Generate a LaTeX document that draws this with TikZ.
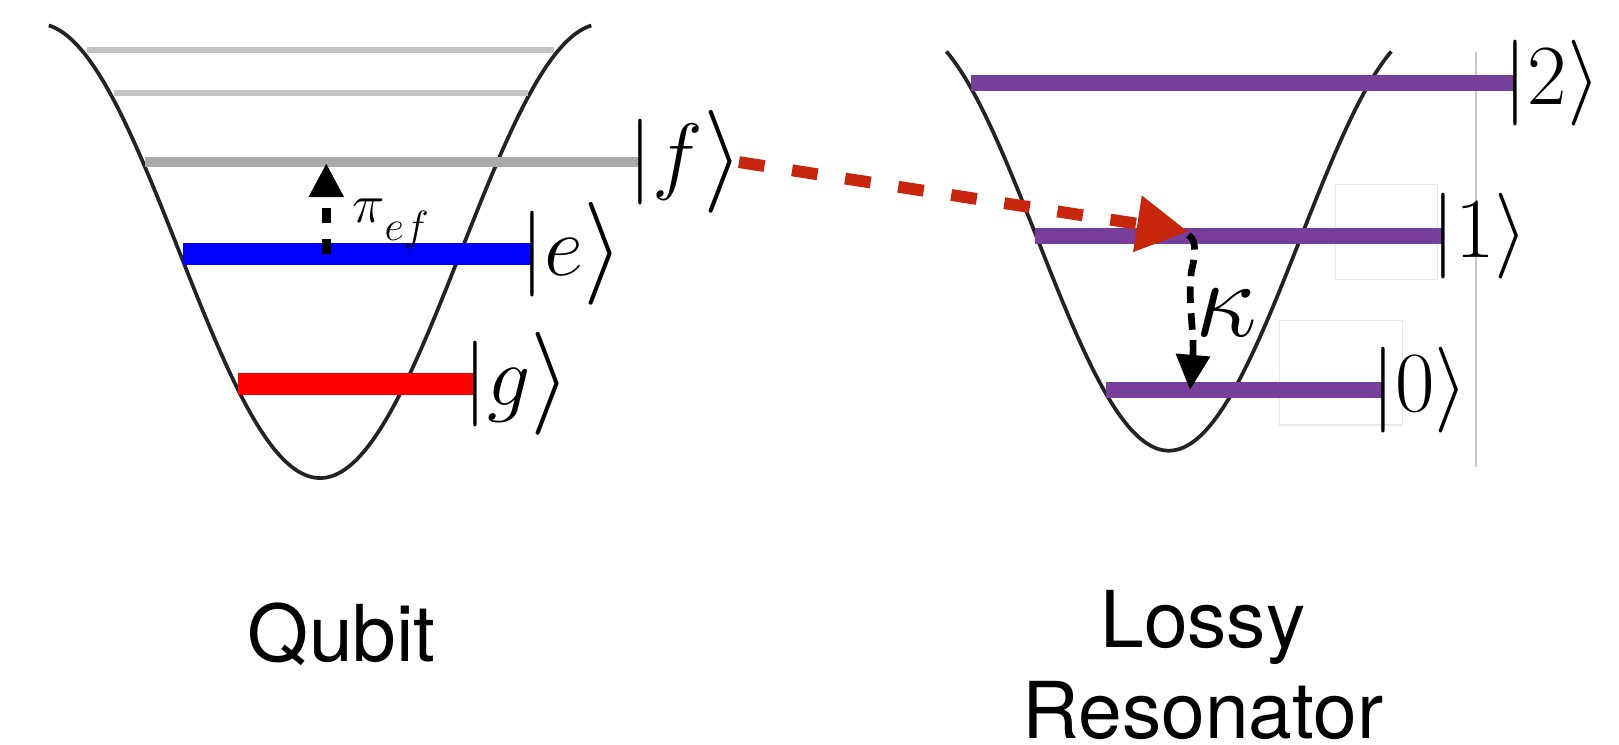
\RequirePackage{fix-cm}
\documentclass[tikz,border=0pt]{standalone}
\usepackage{fontspec}
\usepackage{graphicx}
\usetikzlibrary{arrows.meta}
\newfontfamily\heros{TeX Gyre Heros}
\definecolor{qred}{RGB}{255,0,0}
\definecolor{qblue}{RGB}{0,0,255}
\definecolor{purp}{RGB}{119,63,155}
\definecolor{arrred}{RGB}{200,38,12}
\definecolor{fgray}{RGB}{170,170,170}
\definecolor{tgray}{RGB}{195,195,195}
\definecolor{wellc}{RGB}{35,35,35}
% ket with enlarged right angle bracket (as in the reference)
\newcommand{\ketq}[1]{\fontsize{83}{83}\selectfont
  $|#1$\raisebox{-0.05em}{\scalebox{1.2}{$\rangle$}}}
\newcommand{\ketr}[1]{\fontsize{83}{83}\selectfont$|#1\rangle$}
\tikzset{
  well/.style={draw=wellc, line width=3.6pt, line join=round},
  thinlvl/.style={draw=tgray, line width=5.8pt},
  ketnode/.style={inner sep=0pt, outer sep=0pt, anchor=west},
  reslvl/.style={draw=purp, line width=15pt},
  faint/.style={draw=black!9, line width=1pt},
  redarr/.style={draw=arrred, line width=11.5pt, dash pattern=on 25pt off 27pt,
    -{Triangle[length=50pt,width=52pt,fill=arrred]}},
  piarr/.style={draw=black, line width=8.5pt, dash pattern=on 15pt off 15pt,
    -{Triangle[length=33pt,width=32pt]}},
  karr/.style={draw=black, line width=6.5pt, dash pattern=on 16pt off 10pt,
    -{Triangle[length=34pt,width=32pt]}},
  caption/.style={inner sep=0pt, anchor=base, font=\heros\fontsize{76}{76}\selectfont}
}
\begin{document}
\begin{tikzpicture}[x=1pt,y=-1pt]
\useasboundingbox (0,0) rectangle (1568,721);
% ---------------- Qubit ----------------
\draw[well] plot[domain=-3.02:3.02, samples=160, smooth, variable=\t]
  ({310+87*\t},{463-220*(1-cos(\t r))});
\draw[thinlvl] (84,48) -- (537,48);
\draw[thinlvl] (110,90.4) -- (511,90.4);
\coordinate (fL) at (140.4,157); \coordinate (fR) at (620.5,157);
\coordinate (eL) at (177,246);   \coordinate (eR) at (516,246);
\coordinate (gL) at (230.7,372); \coordinate (gR) at (460.6,372);
\draw[draw=fgray, line width=9.7pt] (fL) -- (fR);
\draw[draw=qblue, line width=21pt] (eL) -- (eR);
\draw[draw=qred, line width=21pt] (gL) -- (gR);
\node[ketnode] (kf) at ([xshift=-11.5pt]fR) {\ketq{f}};
\node[ketnode] (ke) at ([xshift=-11.5pt]eR) {\ketq{e}};
\node[ketnode] (kg) at ([xshift=-11.5pt]gR) {\ketq{g}};
\coordinate (pistart) at (316,246);
\coordinate (piend) at (316,158);
\draw[piarr] (pistart) -- (piend);
\node[inner sep=0pt, anchor=base west] (lpi) at (341,215)
  {\fontsize{53}{53}\selectfont$\pi$\raisebox{-17.5pt}{\fontsize{41}{41}\selectfont$ef$}};
% ---------------- Resonator ----------------
\draw[faint] (1293,179) rectangle (1392,271);
\draw[faint] (1239.6,310.6) rectangle (1358,411.6);
\coordinate (vtop) at (1429.5,50); \coordinate (vbot) at (1429.5,452);
\draw[draw=black!22, line width=1.5pt] (vtop) -- (vbot);
\draw[well] plot[domain=-2.66:2.66, samples=140, smooth, variable=\t]
  ({1132+81*\t},{436.5-205*(1-cos(\t r))});
\coordinate (l2L) at (940,80.5);    \coordinate (l2R) at (1468,80.5);
\coordinate (l1L) at (1002.4,228.6); \coordinate (l1R) at (1397.6,228.6);
\coordinate (l0L) at (1070.8,377.7); \coordinate (l0R) at (1339.5,377.7);
\draw[reslvl] (l2L) -- (l2R);
\draw[reslvl] (l1L) -- (l1R);
\draw[reslvl] (l0L) -- (l0R);
\node[ketnode] (k2) at ([xshift=-11.5pt]l2R) {\ketr{2}};
\node[ketnode] (k1) at ([xshift=-11.5pt]l1R) {\ketr{1}};
\node[ketnode] (k0) at ([xshift=-11.5pt]l0R) {\ketr{0}};
% ---------------- Arrows ----------------
\coordinate (r1) at (1151,224.4);
\draw[redarr] ([xshift=-4pt]kf.east) -- (r1);
\coordinate (kstart) at (1151,227.6);
\coordinate (kend) at (1152.5,377.7);
\draw[karr] (kstart) .. controls (1160,233) and (1157,250) .. (1154,262)
  .. controls (1150,290) and (1157,325) .. (kend);
\node[inner sep=0pt, anchor=base west] (lkappa) at (1158,326)
  {\fontsize{106}{106}\selectfont$\kappa$};
% ---------------- Captions ----------------
\node[caption] (qubit) at (331,641) {Qubit};
\node[caption] (lossy) at (1165,627) {Lossy};
\node[caption] (reson) at (1165,715) {Resonator};
\end{tikzpicture}
\end{document}
